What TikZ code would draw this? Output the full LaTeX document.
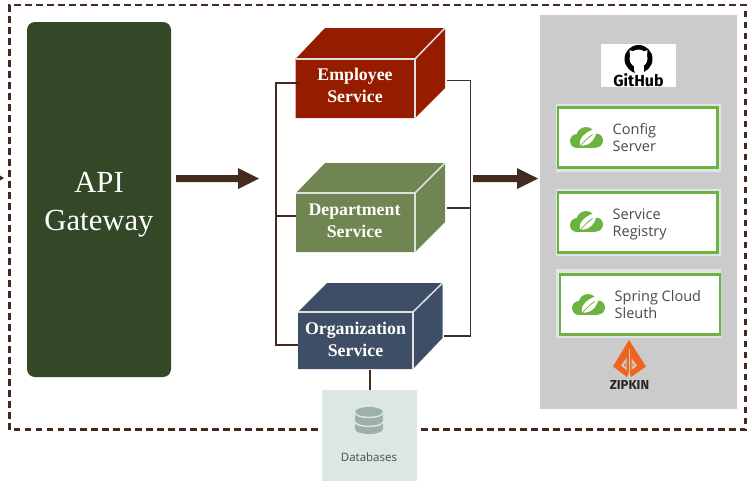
\documentclass[tikz,border=0pt]{standalone}
\usepackage{fontspec}
\setmainfont{Liberation Serif}
\newfontfamily\uifont{Open Sans}
\newfontfamily\logofont{Fira Sans}
\definecolor{dbrown}{HTML}{452A20}
\definecolor{gwgreen}{HTML}{334827}
\definecolor{empred}{HTML}{961C00}
\definecolor{depgreen}{HTML}{6F8653}
\definecolor{orgblue}{HTML}{3E4E66}
\definecolor{panelgray}{HTML}{CBCBCB}
\definecolor{palegreen}{HTML}{DCE6E4}
\definecolor{dbicon}{HTML}{9DB0AA}
\definecolor{springgreen}{HTML}{6DB33F}
\definecolor{uitext}{HTML}{4A4A4A}
\definecolor{zipkinorange}{HTML}{F0641E}
\tikzset{
  x=1pt,y=-1pt,
  conn/.style={draw=dbrown,line width=1.5pt},
  bigarrow/.style={fill=dbrown,draw=none},
  boxlabel/.style={text=white,font=\fontsize{17.8}{22}\selectfont\bfseries,align=center,inner sep=0pt},
  uilabel/.style={text=uitext,font=\uifont\fontsize{14.5}{17.7}\selectfont,align=left,anchor=west,inner sep=0pt},
  greenbox/.style={fill=white,draw=springgreen,line width=2.1pt,inner sep=0pt,minimum width=159.5pt,minimum height=60pt},
}
\newcommand{\cuboid}[9]{%
  \fill[#1] (#2,#3) -- (#6,#7) -- (#8,#7) -- (#8,#9) -- (#4,#5) -- (#2,#5) -- cycle;
  \draw[white!88!black,line width=1.5pt] (#2,#3) -- (#4,#3) -- (#4,#5);
  \draw[white!88!black,line width=1.5pt] (#4,#3) -- (#8,#7);
}
\newcommand{\springleaf}[2]{%
  \begin{scope}[shift={(#1,#2)}]
    \fill[springgreen] (-9.5,3.5) circle (7);
    \fill[springgreen] (-0.5,-1) circle (9.5);
    \fill[springgreen] (9.5,3) circle (7);
    \fill[springgreen] (-9.5,3) rectangle (9.5,10.5);
    \fill[white] (-6.5,8) .. controls (-8.5,0) and (1,-7) .. (10,-9) .. controls (10.5,0) and (3.5,9.5) .. (-6.5,8) -- cycle;
    \draw[springgreen,line width=0.8pt] (-7,9.5) .. controls (-3,4) and (2,0) .. (6,-3);
  \end{scope}
}
\begin{document}
\begin{tikzpicture}
\useasboundingbox (0,0) rectangle (752,488);
% dashed frame
\draw[dbrown,line width=2.6pt,dash pattern=on 6.5pt off 4.5pt] (9.5,429.5) -- (9.5,5) -- (745.5,5) -- (745.5,429.5) -- cycle;
\fill[dbrown] (0,175.5) -- (4,178) -- (0,180.5) -- cycle;
% gateway
\node[fill=gwgreen,rounded corners=8pt,minimum width=144pt,minimum height=355pt,inner sep=0pt] (gw) at (99,199.5) {};
\node[text=white,font=\fontsize{30.7}{38}\selectfont,align=center,inner sep=0pt] (gwt) at (99,205) {API\\Gateway};
% big arrows
\fill[bigarrow] (176,175) -- (238,175) -- (238,168) -- (259,178.5) -- (238,189) -- (238,182) -- (176,182) -- cycle;
\fill[bigarrow] (473,175) -- (517,175) -- (517,168) -- (538,178.5) -- (517,189) -- (517,182) -- (473,182) -- cycle;
% service boxes
\cuboid{empred}{295.5}{59}{415}{118}{325}{28}{445}{88}
\cuboid{depgreen}{296}{193}{415}{252}{325}{163}{445}{222}
\cuboid{orgblue}{298}{312}{413}{369}{327}{283}{442.5}{338}
\node[boxlabel] (emp) at (355,85.5) {Employee\\Service};
\node[boxlabel] (dep) at (354.5,220.5) {Department\\Service};
\node[boxlabel] (org) at (355.5,339.5) {Organization\\Service};
% connectors
\coordinate (lt) at (276,83); \coordinate (lb) at (276,345);
\coordinate (rt) at (470.5,80.5); \coordinate (rb) at (470.5,336);
\draw[conn] (300,83) -- (lt) -- (lb) -- (298,345);
\draw[conn] (276,216) -- (296,216);
\draw[conn] (447,80.5) -- (rt) -- (rb) -- (444,336);
\draw[conn] (447,208) -- (470.5,208);
\draw[conn] (370,369.5) -- (370,391);
% databases
\node[fill=palegreen,minimum width=95.5pt,minimum height=91pt,inner sep=0pt] (db) at (369.7,435.5) {};
\fill[dbicon] (369,412) ellipse (14 and 5);
\fill[dbicon] (355,412) rectangle (383,429);
\fill[dbicon] (369,429) ellipse (14 and 5);
\draw[palegreen,line width=1.4pt] (355,412.5) .. controls (355,419) and (383,419) .. (383,412.5);
\draw[palegreen,line width=1.4pt] (355,421.5) .. controls (355,428) and (383,428) .. (383,421.5);
\node[text=uitext,font=\uifont\fontsize{11.5}{14}\selectfont,inner sep=0pt] (dbt) at (369,457) {Databases};
% panel
\node[fill=panelgray,minimum width=197pt,minimum height=394pt,inner sep=0pt] (panel) at (638.5,212) {};
\node[fill=white,minimum width=75pt,minimum height=43pt,inner sep=0pt] (gh) at (638.5,65.5) {};
\fill[black] (638.5,59) circle (14);
\fill[white] (638.5,58.5) circle (9);
\fill[white] (629.5,50) -- (634,52) -- (630,56) -- cycle;
\fill[white] (647.5,50) -- (643,52) -- (647,56) -- cycle;
\fill[white] (633.5,66) rectangle (643.5,74);
\fill[black] (627,65) -- (633,68) -- (635,73) -- (631,71) -- cycle;
\node[text=black,font=\logofont\bfseries\fontsize{16}{16}\selectfont,inner sep=0pt] (ght) at (638.5,80.5) {GitHub};
% config
\fill[palegreen] (556,104) rectangle (721,172);
\node[greenbox] (cfg) at (637.7,137.5) {};
\springleaf{586.5}{137.5}
\node[uilabel] (cfgt) at (612.5,137.5) {Config\\Server};
% registry
\fill[palegreen] (556,189) rectangle (721,256);
\node[greenbox] (reg) at (637.7,222.5) {};
\springleaf{586.5}{221.5}
\node[uilabel] (regt) at (612.5,224.5) {Service\\Registry};
% sleuth
\fill[palegreen] (556,269) rectangle (721,338);
\node[greenbox] (sl) at (640,304.5) {};
\springleaf{588.5}{304.5}
\node[uilabel] (slt) at (614.5,304.5) {Spring Cloud\\Sleuth};
% zipkin
\fill[zipkinorange] (629,340) -- (646,366.5) -- (631,377) -- (629,372) -- (627,377) -- (613,366.5) -- cycle;
\draw[panelgray,line width=1pt] (629,349) -- (629,378);
\fill[panelgray] (621,365.5) -- (626.5,358) -- (626.5,370) -- cycle;
\fill[panelgray] (637,365.5) -- (631.5,358) -- (631.5,370) -- cycle;
\fill[zipkinorange] (624,365) -- (625.5,362.5) -- (625.5,367) -- cycle;
\fill[zipkinorange] (634,365) -- (632.5,362.5) -- (632.5,367) -- cycle;
\node[text=black!85,font=\logofont\bfseries\fontsize{13}{13}\selectfont,inner sep=0pt] (zt) at (629.5,384.5) {ZIPKIN};
\end{tikzpicture}
\end{document}
